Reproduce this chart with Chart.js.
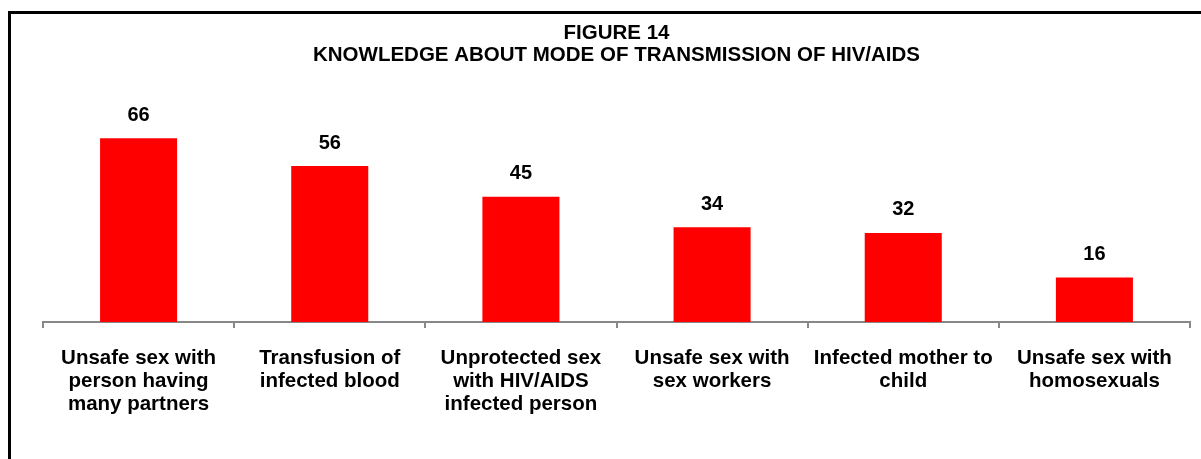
<!DOCTYPE html>
<html>
<head>
<meta charset="utf-8">
<script src="https://cdn.jsdelivr.net/npm/chart.js@4.4.1/dist/chart.umd.min.js"></script>
<style>
  html, body { margin: 0; padding: 0; background: #fff; overflow: hidden; }
  #wrap { position: relative; width: 1201px; height: 459px; }
  #frame { position: absolute; left: 8px; top: 11px; width: 1400px; height: 700px;
           border: 3px solid #000; box-sizing: border-box; pointer-events: none; }
  canvas { position: absolute; left: 0; top: 0; }
</style>
</head>
<body>
<div id="wrap">
  <canvas id="chart" width="1201" height="459"></canvas>
  <div id="frame"></div>
</div>
<script>
// Modes of transmission (each label split into its printed lines)
const categories = [
  ["Unsafe sex with", "person having", "many partners"],
  ["Transfusion of", "infected blood"],
  ["Unprotected sex", "with HIV/AIDS", "infected person"],
  ["Unsafe sex with", "sex workers"],
  ["Infected mother to", "child"],
  ["Unsafe sex with", "homosexuals"]
];
// Percentage of respondents aware of each mode
const values = [66, 56, 45, 34, 32, 16];
const titleLines = ["FIGURE 14", "KNOWLEDGE ABOUT MODE OF TRANSMISSION OF HIV/AIDS"];

const FONT = "'Liberation Sans', Arial, sans-serif";

// Writes each bar's value above it
const valueLabels = {
  id: 'valueLabels',
  afterDatasetsDraw(chart) {
    const ctx = chart.ctx;
    const meta = chart.getDatasetMeta(0);
    ctx.save();
    ctx.font = "bold 20px " + FONT;
    ctx.fillStyle = "#000";
    ctx.textAlign = "center";
    ctx.textBaseline = "middle";
    meta.data.forEach((bar, i) => {
      ctx.fillText(String(values[i]), bar.x, bar.y - 23);
    });
    ctx.restore();
  }
};

new Chart(document.getElementById('chart'), {
  type: 'bar',
  data: {
    labels: categories,
    datasets: [{
      data: values,
      backgroundColor: '#FF0000',
      borderWidth: 0,
      categoryPercentage: 1.0,
      barPercentage: 0.403
    }]
  },
  options: {
    responsive: false,
    animation: false,
    devicePixelRatio: 1,
    layout: { padding: { left: 43, right: 11, top: 0, bottom: 24 } },
    plugins: {
      legend: { display: false },
      tooltip: { enabled: false },
      title: {
        display: true,
        text: titleLines,
        color: '#000',
        font: { family: FONT, size: 20.5, weight: 'bold', lineHeight: 1.05 },
        padding: { top: 23, bottom: 61 }
      }
    },
    scales: {
      x: {
        offset: true,
        grid: {
          offset: true,
          drawOnChartArea: false,
          drawTicks: true,
          tickLength: 6,
          color: '#888888',
          lineWidth: 2
        },
        border: { display: true, color: '#888888', width: 2 },
        ticks: {
          color: '#000',
          maxRotation: 0,
          minRotation: 0,
          autoSkip: false,
          padding: 19,
          font: { family: FONT, size: 20.5, weight: 'bold', lineHeight: 1.12 }
        }
      },
      y: {
        display: false,
        min: 0,
        max: 70
      }
    }
  },
  plugins: [valueLabels]
});
</script>
</body>
</html>
